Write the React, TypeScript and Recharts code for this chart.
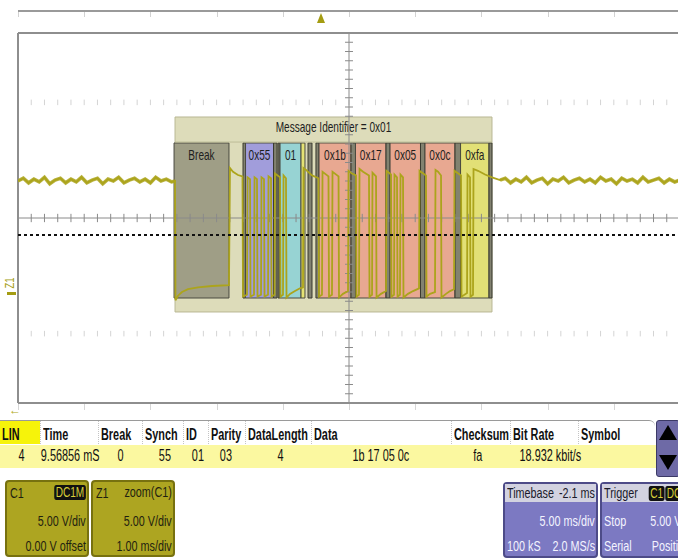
import React from 'react';
import { LineChart, Line, XAxis, YAxis, CartesianGrid, ReferenceArea, ReferenceLine } from 'recharts';

// Waveform samples: [time in ms (zoom trace, 1 ms/div), voltage in V (5 V/div)]
const wavePoints: [number, number][] = [
  [0, 4.0], [0.08, 4.3], [0.16, 3.8], [0.24, 4.2], [0.32, 3.9], [0.40, 4.4], [0.48, 3.7], [0.56, 4.1], [0.64, 4.3], [0.72, 3.8],
  [0.80, 4.2], [0.88, 3.9], [0.96, 4.4], [1.04, 3.8], [1.12, 4.1], [1.20, 4.3], [1.28, 3.7], [1.36, 4.2], [1.44, 4.0], [1.52, 4.4],
  [1.60, 3.8], [1.68, 4.1], [1.76, 4.3], [1.84, 3.9], [1.92, 4.2], [2.00, 3.8], [2.08, 4.4], [2.16, 4.0], [2.24, 4.2], [2.32, 3.9],
  [2.372, 4.0],
  [2.379, -8.9], [2.417, -8.4], [2.477, -8.0], [2.568, -7.7], [2.719, -7.5], [2.931, -7.35], [3.187, -7.25],
  [3.202, 5.4], [3.248, 5.0], [3.323, 4.65], [3.391, 4.5],
  [3.399, -8.5], [3.459, -8.3], [3.467, 4.4], [3.505, 4.2], [3.512, -8.5], [3.565, -8.3], [3.573, 4.4], [3.610, 4.2],
  [3.618, -8.5], [3.671, -8.3], [3.678, 4.4], [3.716, 4.2], [3.724, -8.5], [3.777, -8.3], [3.784, 4.5], [3.822, 4.3],
  [3.830, -8.5], [3.875, -8.3], [3.882, 4.8], [3.958, 4.4],
  [3.965, -8.5], [4.003, -8.3], [4.011, 4.6], [4.048, 4.3], [4.056, -8.6], [4.109, -8.2], [4.184, -7.9], [4.260, -7.6], [4.305, -7.5],
  [4.313, 5.4], [4.351, 5.2], [4.441, 4.6], [4.539, 4.3],
  [4.547, -8.5], [4.592, -8.3], [4.600, 5.0], [4.690, 4.5], [4.698, -8.5], [4.743, -8.3], [4.751, 5.0], [4.842, 4.5],
  [4.849, -8.6], [4.909, -8.2], [4.985, -7.9],
  [4.993, 5.1], [5.045, 4.8], [5.106, 4.6],
  [5.113, -8.5], [5.151, -8.3], [5.159, 5.3], [5.212, 5.0], [5.302, 4.6], [5.310, -8.5], [5.348, -8.3], [5.355, 4.9], [5.408, 4.5],
  [5.416, -8.6], [5.483, -8.2], [5.559, -7.9],
  [5.567, 5.1], [5.635, 4.7],
  [5.642, -8.5], [5.680, -8.3], [5.687, 4.7], [5.725, 4.4], [5.733, -8.5], [5.770, -8.3], [5.778, 4.7], [5.816, 4.4],
  [5.823, -8.6], [5.891, -8.2], [5.967, -7.9], [6.058, -7.6],
  [6.065, 5.1], [6.163, 4.6],
  [6.171, -8.5], [6.224, -8.2], [6.299, -8.0], [6.307, 5.2], [6.345, 5.0], [6.390, 4.6], [6.397, -8.6], [6.465, -8.2], [6.526, -7.9], [6.586, -7.7],
  [6.594, 5.1], [6.692, 4.6],
  [6.700, -8.5], [6.783, -8.1], [6.790, 4.7], [6.828, 4.4], [6.835, -8.5], [6.873, -8.3], [6.881, 5.3], [6.949, 5.1], [7.055, 4.7], [7.160, 4.4], [7.281, 4.1],
  [7.36, 4.3], [7.44, 3.8], [7.52, 4.2], [7.60, 3.9], [7.68, 4.4], [7.76, 3.8], [7.84, 4.1], [7.92, 4.3], [8.00, 3.7], [8.08, 4.2],
  [8.16, 4.0], [8.24, 4.4], [8.32, 3.8], [8.40, 4.1], [8.48, 4.3], [8.56, 3.9], [8.64, 4.2], [8.72, 3.8], [8.80, 4.4], [8.88, 4.0],
  [8.96, 4.2], [9.04, 3.7], [9.12, 4.3], [9.20, 4.0], [9.28, 4.2], [9.36, 3.8], [9.44, 4.4], [9.52, 3.9], [9.60, 4.1], [9.68, 4.3],
  [9.76, 3.8], [9.84, 4.2], [9.92, 3.9], [10.00, 4.1],
];

// Bus idle (recessive) periods before and after the frame, in ms
const idleBefore = 2.372;
const idleAfter = 7.281;

// Decoded frame
const frameTitle = 'Message Identifier = 0x01';
const frameStart = 2.372;
const frameEnd = 7.160;
const frameTop = 10.92;
const frameBottom = -10.16;
const fieldTop = 8.11;
const fieldBottom = -8.65;

const segLabels = ['Break', '', '0x55', '', '', '01', '', '', '', '0x1b', '', '0x17', '', '0x05', '', '0x0c', '', '0xfa', ''];
const segKinds = ['break', 'sep', 'sync', 'sep', 'sep', 'id', 'parity', 'sep', 'sep', 'data', 'sep', 'data', 'sep', 'data', 'sep', 'data', 'sep', 'check', 'sep'];
const segStart = [2.357, 3.399, 3.437, 3.860, 3.928, 3.958, 4.275, 4.381, 4.501, 4.547, 5.030, 5.098, 5.559, 5.620, 6.080, 6.148, 6.601, 6.685, 7.115];
const segEnd = [3.187, 3.437, 3.860, 3.913, 3.958, 4.275, 4.335, 4.441, 4.547, 5.030, 5.098, 5.559, 5.620, 6.080, 6.148, 6.601, 6.685, 7.115, 7.160];

const thresholdV = -1.84;

const xTicks = [0, 1, 2, 3, 4, 5, 6, 7, 8, 9, 10];
const yTicks = [-20, -15, -10, -5, 0, 5, 10, 15, 20];

// Table
const tableHeaders = ['LIN', 'Time', 'Break', 'Synch', 'ID', 'Parity', 'DataLength', 'Data', 'Checksum', 'Bit Rate', 'Symbol'];
const tableValues = ['4', '9.56856 mS', '0', '55', '01', '03', '4', '1b 17 05 0c', 'fa', '18.932 kbit/s', ''];

const SEG_STYLE: Record<string, { fill: string; stroke: string }> = {
  break: { fill: '#9b9a83', stroke: '#4a4a40' },
  sync: { fill: '#9d99dc', stroke: '#4a4a40' },
  id: { fill: '#92d2d4', stroke: '#4a4a40' },
  parity: { fill: '#e4e170', stroke: '#4a4a40' },
  data: { fill: '#e8a48e', stroke: '#4a4a40' },
  check: { fill: '#e2df72', stroke: '#4a4a40' },
  sep: { fill: '#7c7c6c', stroke: '#3a3a30' },
};

const COL_X = [0, 40, 98, 142, 183, 208, 245, 311, 451, 510, 578];
const COL_W = [40, 58, 44, 41, 25, 37, 66, 140, 59, 68, 78];
const VAL_CENTER = [21, 70, 120, 165, 198, 226, 280, 381, 478, 550, 610];

const FONT = "'Liberation Sans',Arial,sans-serif";
const SX = 0.72;
const TRACE = '#aca41c';

const minorX: number[] = [];
for (let i = 0; i <= 50; i++) minorX.push(+(i * 0.2).toFixed(2));
const minorY: number[] = [];
for (let i = -20; i <= 20; i++) minorY.push(i);

function N({ children, origin = 'left', style }: { children: React.ReactNode; origin?: string; style?: React.CSSProperties }) {
  return (
    <span style={{ display: 'inline-block', whiteSpace: 'nowrap', transform: `scaleX(${SX})`, transformOrigin: origin, ...style }}>{children}</span>
  );
}

function Badge({ text }: { text: string }) {
  return (
    <span style={{ display: 'inline-block', background: '#111', color: '#d7cf3a', borderRadius: 3, padding: '0 2px', fontSize: 14, lineHeight: '15px', marginLeft: 1 }}>{text}</span>
  );
}

const narrowLabel = (text: string, dy: number, size: number) => (props: any) => {
  const vb = props.viewBox || {};
  const cx = vb.x + vb.width / 2;
  return (
    <text x={0} y={vb.y + dy} textAnchor="middle" fontSize={size} fontFamily={FONT} fill="#1e1e1e" transform={`translate(${cx},0) scale(${SX},1)`}>{text}</text>
  );
};

export default function App() {
  const wave = wavePoints.map(([t, v]) => ({ t, v, idle: t <= idleBefore || t >= idleAfter ? v : null }));
  const divX = xTicks.map((k) => 18 + k * 66.2);
  return (
    <div style={{ position: 'absolute', left: 0, top: 0, width: 678, height: 559, overflow: 'hidden', background: '#fff', fontFamily: FONT }}>
      {/* top ruler */}
      <div style={{ position: 'absolute', left: 18, top: 10, width: 660, height: 2, background: '#9a9a9a' }} />
      {divX.map((x, i) => (
        <div key={'rt' + i} style={{ position: 'absolute', left: x, top: 12, width: 1, height: 5, background: '#d2d2d2' }} />
      ))}
      <div style={{ position: 'absolute', left: 317, top: 13, width: 0, height: 0, borderLeft: '4px solid transparent', borderRight: '4px solid transparent', borderBottom: '10px solid #a49c12' }} />

      <div style={{ position: 'absolute', left: 0, top: 0 }}>
        <LineChart width={680} height={420} data={wave} margin={{ top: 33, right: 0, bottom: 17, left: 18 }}>
          <XAxis dataKey="t" type="number" domain={[0, 10]} ticks={xTicks} tick={false} axisLine={false} tickLine={false} height={0} allowDataOverflow />
          <YAxis type="number" domain={[-20, 20]} ticks={yTicks} tick={false} axisLine={false} tickLine={false} width={0} allowDataOverflow />
          <CartesianGrid strokeDasharray="1 2" stroke="#8c8c8c" />
          {minorX.map((t) => (
            <ReferenceLine key={'fa' + t} segment={[{ x: t, y: 12.2 }, { x: t, y: 12.8 }]} stroke="#d4d4d4" />
          ))}
          {minorX.map((t) => (
            <ReferenceLine key={'fb' + t} segment={[{ x: t, y: -12.2 }, { x: t, y: -12.8 }]} stroke="#d4d4d4" />
          ))}
          <ReferenceArea x1={frameStart} x2={frameEnd} y1={frameBottom} y2={frameTop} fill="#d9d8b2" fillOpacity={0.9} stroke="#b9b894"
            label={narrowLabel(frameTitle, 15, 14)} />
          <ReferenceLine segment={[{ x: frameStart, y: fieldTop + 0.1 }, { x: frameEnd, y: fieldTop + 0.1 }]} stroke="#bdbc98" />
          {segStart.map((s, i) => (
            <ReferenceArea key={'seg' + i} x1={s} x2={segEnd[i]} y1={fieldBottom} y2={fieldTop}
              fill={SEG_STYLE[segKinds[i]].fill} fillOpacity={0.95} stroke={SEG_STYLE[segKinds[i]].stroke} strokeWidth={1}
              label={segLabels[i] ? narrowLabel(segLabels[i], 17, 14) : undefined} />
          ))}
          <ReferenceLine y={0} stroke="#8a8a8a" />
          <ReferenceLine x={5} stroke="#8a8a8a" />
          {minorX.map((t) => (
            <ReferenceLine key={'mx' + t} segment={[{ x: t, y: -0.45 }, { x: t, y: 0.45 }]} stroke="#8a8a8a" />
          ))}
          {minorY.map((v) => (
            <ReferenceLine key={'my' + v} segment={[{ x: 4.94, y: v }, { x: 5.06, y: v }]} stroke="#8a8a8a" />
          ))}
          <ReferenceLine y={20} stroke="#8e8e8e" strokeWidth={2} />
          <ReferenceLine y={-20} stroke="#8e8e8e" strokeWidth={2} />
          <ReferenceLine x={0} stroke="#8e8e8e" strokeWidth={2} />
          <Line dataKey="idle" type="linear" stroke={TRACE} strokeWidth={3.6} strokeOpacity={0.85} dot={false} connectNulls={false} isAnimationActive={false} />
          <Line dataKey="v" type="linear" stroke={TRACE} strokeWidth={1.8} dot={false} isAnimationActive={false} />
          <ReferenceLine y={thresholdV} stroke="#111" strokeWidth={2} strokeDasharray="3 3" />
        </LineChart>
      </div>

      {/* Z1 marker */}
      <div style={{ position: 'absolute', left: 1, top: 276, fontSize: 12, color: '#a49c12', transform: 'rotate(-90deg) scaleX(0.8)', width: 18, textAlign: 'center' }}>Z1</div>
      <div style={{ position: 'absolute', left: 7, top: 292, width: 9, height: 3, background: '#a49c12' }} />

      {/* bottom ruler ticks */}
      {divX.map((x, i) => (
        <div key={'bt' + i} style={{ position: 'absolute', left: x, top: 404, width: 1, height: 6, background: '#d6d6d6' }} />
      ))}
      <div style={{ position: 'absolute', left: 9, top: 403, fontSize: 12, color: '#b0a820' }}>←</div>

      {/* table */}
      <div style={{ position: 'absolute', left: 0, top: 420, width: 655, height: 24, borderTop: '1px solid #9a9a9a', borderTopRightRadius: 6, background: '#fff' }} />
      <div style={{ position: 'absolute', left: 0, top: 421, width: 40, height: 23, background: '#f6f30a' }} />
      <div style={{ position: 'absolute', left: 0, top: 445, width: 656, height: 23, background: '#fbf8a0' }} />
      {tableHeaders.map((h, i) => (
        <div key={'h' + i} style={{ position: 'absolute', left: COL_X[i], top: 421, width: COL_W[i], height: 23, borderLeft: i > 0 ? '1px dotted #c4c4c4' : 'none', boxSizing: 'border-box', paddingLeft: 2, fontSize: 16, fontWeight: 'bold', lineHeight: '27px', color: '#111', whiteSpace: 'nowrap' }}>
          <N style={{ transform: 'scaleX(0.68)' }}>{h}</N>
        </div>
      ))}
      {tableValues.map((v, i) => (
        <div key={'v' + i} style={{ position: 'absolute', left: VAL_CENTER[i] - 50, top: 445, width: 100, textAlign: 'center', fontSize: 16, lineHeight: '22px', color: '#111', whiteSpace: 'nowrap' }}>
          <N origin="center" style={{ transform: 'scaleX(0.68)' }}>{v}</N>
        </div>
      ))}
      {/* scroll button */}
      <div style={{ position: 'absolute', left: 656, top: 420, width: 24, height: 57, background: '#6e6aa6', border: '1px solid #3c3a66', borderRadius: 3, boxSizing: 'border-box' }} />
      <div style={{ position: 'absolute', left: 659, top: 425, width: 0, height: 0, borderLeft: '9px solid transparent', borderRight: '9px solid transparent', borderBottom: '15px solid #000' }} />
      <div style={{ position: 'absolute', left: 659, top: 455, width: 0, height: 0, borderLeft: '9px solid transparent', borderRight: '9px solid transparent', borderTop: '15px solid #000' }} />

      {/* channel panels */}
      {[{ x: 5, title: 'C1', badge: 'DC1M', right: '', r1: '5.00 V/div', r2: '0.00 V offset' }, { x: 91, title: 'Z1', badge: '', right: 'zoom(C1)', r1: '5.00 V/div', r2: '1.00 ms/div' }].map((p, i) => (
        <div key={'p' + i} style={{ position: 'absolute', left: p.x, top: 480, width: 84, height: 77, background: '#ada521', border: '2px solid #77710f', borderRadius: 4, boxSizing: 'border-box', color: '#1f1f10', fontSize: 15 }}>
          <div style={{ position: 'absolute', left: 3, top: 2, lineHeight: '17px' }}><N>{p.title}</N></div>
          <div style={{ position: 'absolute', right: 1, top: 1, lineHeight: '17px' }}><N origin="right">{p.badge ? <Badge text={p.badge} /> : p.right}</N></div>
          <div style={{ position: 'absolute', right: 1, top: 30, lineHeight: '17px' }}><N origin="right">{p.r1}</N></div>
          <div style={{ position: 'absolute', right: 1, top: 55, lineHeight: '17px' }}><N origin="right">{p.r2}</N></div>
        </div>
      ))}

      {/* timebase panel */}
      <div style={{ position: 'absolute', left: 503, top: 482, width: 95, height: 76, background: '#7c79c2', border: '2px solid #4d4b88', borderRadius: 4, boxSizing: 'border-box', color: '#f4f4ff', fontSize: 15 }}>
        <div style={{ position: 'absolute', left: 0, top: 0, right: 0, height: 18, background: '#d2d2e0', color: '#1a1a2a' }}>
          <span style={{ position: 'absolute', left: 2, lineHeight: '18px' }}><N>Timebase</N></span>
          <span style={{ position: 'absolute', right: 1, lineHeight: '18px' }}><N origin="right">-2.1 ms</N></span>
        </div>
        <div style={{ position: 'absolute', right: 1, top: 28, lineHeight: '17px' }}><N origin="right">5.00 ms/div</N></div>
        <div style={{ position: 'absolute', left: 2, top: 53, lineHeight: '17px' }}><N>100 kS</N></div>
        <div style={{ position: 'absolute', right: 1, top: 53, lineHeight: '17px' }}><N origin="right">2.0 MS/s</N></div>
      </div>
      {/* trigger panel */}
      <div style={{ position: 'absolute', left: 600, top: 482, width: 96, height: 76, background: '#7c79c2', border: '2px solid #4d4b88', borderRadius: 4, boxSizing: 'border-box', color: '#f4f4ff', fontSize: 15 }}>
        <div style={{ position: 'absolute', left: 0, top: 0, right: 0, height: 18, background: '#d2d2e0', color: '#1a1a2a' }}>
          <span style={{ position: 'absolute', left: 2, lineHeight: '18px' }}><N>Trigger</N></span>
          <span style={{ position: 'absolute', left: 46, top: 1, lineHeight: '16px' }}><N><Badge text="C1" /><Badge text="DC" /></N></span>
        </div>
        <div style={{ position: 'absolute', left: 2, top: 28, lineHeight: '17px' }}><N>Stop</N></div>
        <div style={{ position: 'absolute', right: 13, top: 28, lineHeight: '17px' }}><N origin="right">5.00 V</N></div>
        <div style={{ position: 'absolute', left: 2, top: 53, lineHeight: '17px' }}><N>Serial</N></div>
        <div style={{ position: 'absolute', right: 4, top: 53, lineHeight: '17px' }}><N origin="right">Positive</N></div>
      </div>
    </div>
  );
}
